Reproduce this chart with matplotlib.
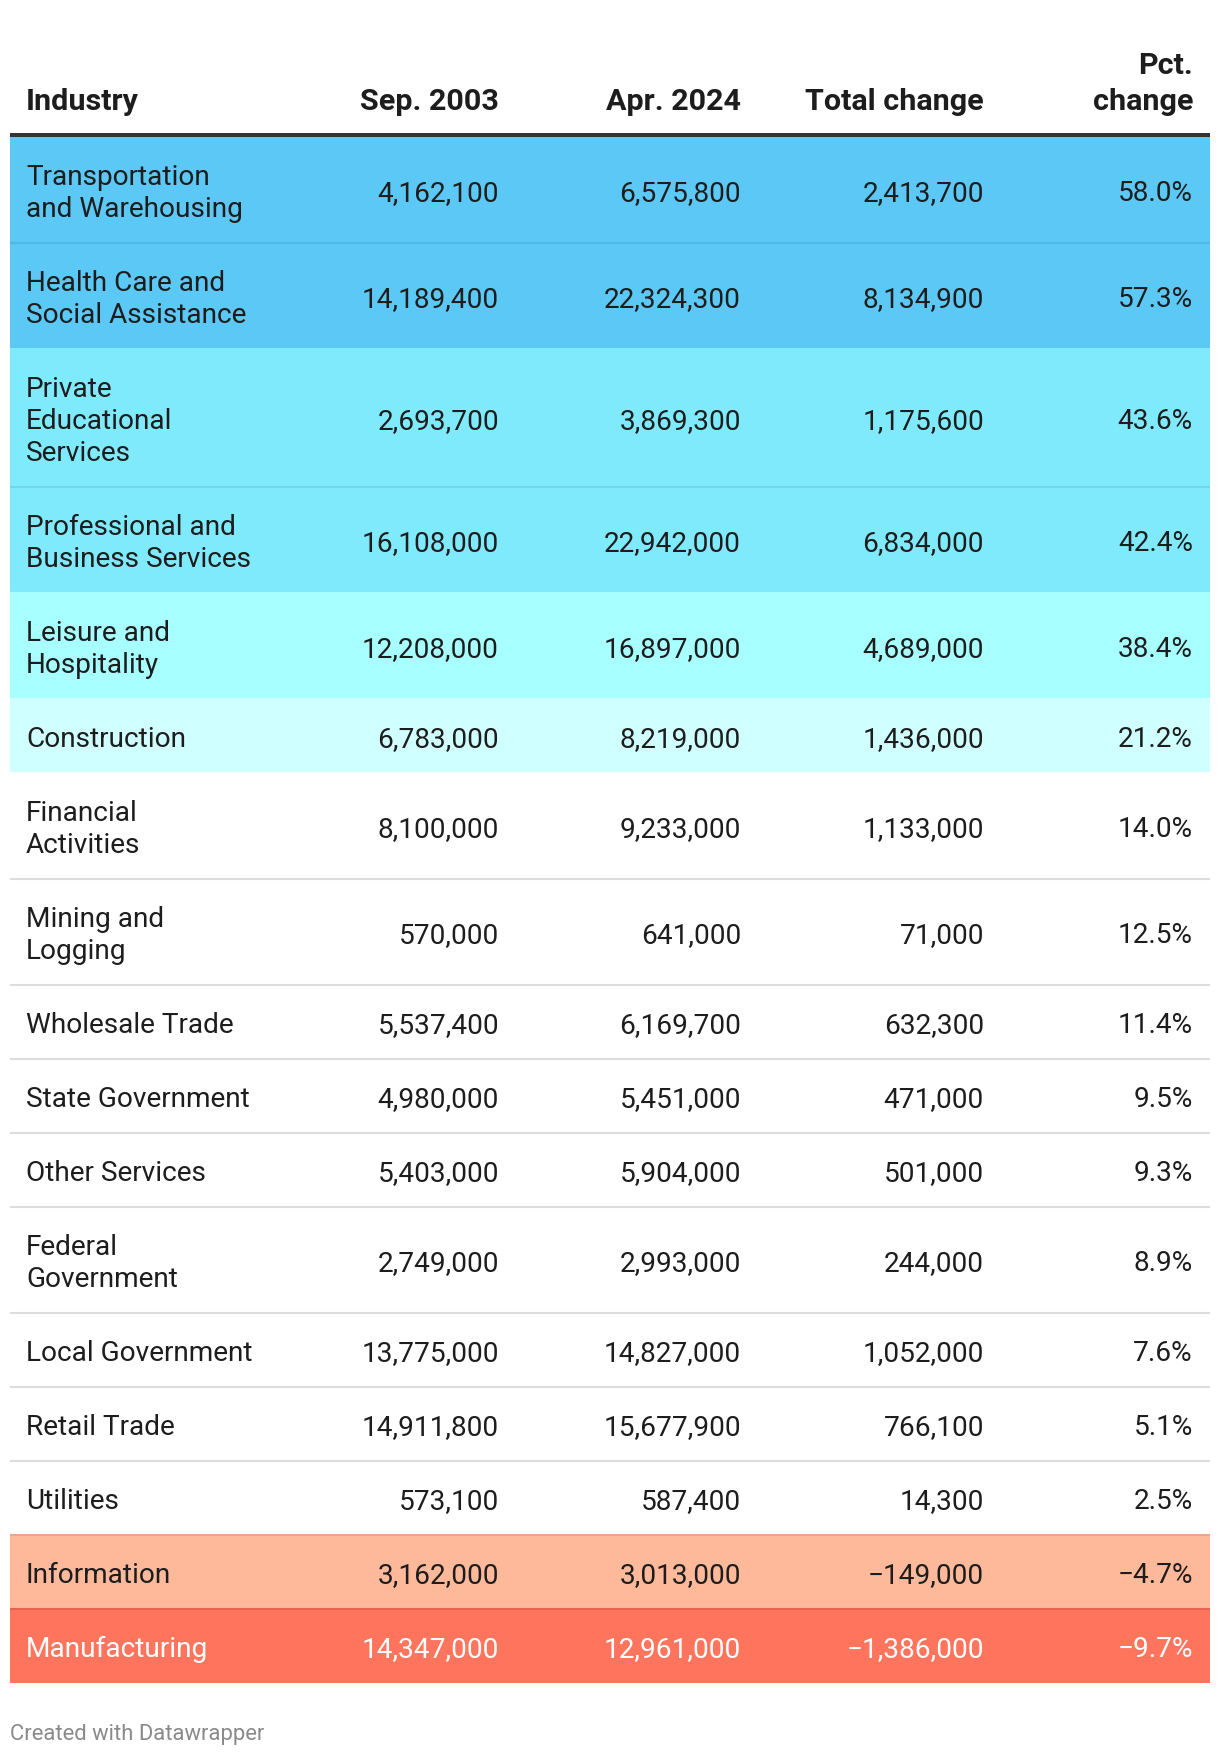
import matplotlib
matplotlib.use("Agg")
import matplotlib.pyplot as plt
from matplotlib.patches import Rectangle

# ---------------- data ----------------
industries = [
    "Transportation\nand Warehousing",
    "Health Care and\nSocial Assistance",
    "Private\nEducational\nServices",
    "Professional and\nBusiness Services",
    "Leisure and\nHospitality",
    "Construction",
    "Financial\nActivities",
    "Mining and\nLogging",
    "Wholesale Trade",
    "State Government",
    "Other Services",
    "Federal\nGovernment",
    "Local Government",
    "Retail Trade",
    "Utilities",
    "Information",
    "Manufacturing",
]
sep_2003 = [4162100, 14189400, 2693700, 16108000, 12208000, 6783000, 8100000,
            570000, 5537400, 4980000, 5403000, 2749000, 13775000, 14911800,
            573100, 3162000, 14347000]
apr_2024 = [6575800, 22324300, 3869300, 22942000, 16897000, 8219000, 9233000,
            641000, 6169700, 5451000, 5904000, 2993000, 14827000, 15677900,
            587400, 3013000, 12961000]
total_change = [2413700, 8134900, 1175600, 6834000, 4689000, 1436000, 1133000,
                71000, 632300, 471000, 501000, 244000, 1052000, 766100,
                14300, -149000, -1386000]
pct_change = [58.0, 57.3, 43.6, 42.4, 38.4, 21.2, 14.0, 12.5, 11.4, 9.5, 9.3,
              8.9, 7.6, 5.1, 2.5, -4.7, -9.7]
headers = ["Industry", "Sep. 2003", "Apr. 2024", "Total change", "Pct.\nchange"]
footer = "Created with Datawrapper"

# ---------------- style ----------------
FAM = ["Roboto", "DejaVu Sans"]
W, H = 1220, 1758
FS_PX = 28
FS = FS_PX * 72 / 100
HFS = 30.5 * 72 / 100
LINE = 32
PAD = 42

def fill_color(p):
    if p >= 50: return "#5bc8f5"
    if p >= 40: return "#80eafd"
    if p >= 30: return "#a8ffff"
    if p >= 20: return "#d0ffff"
    if p >= 0: return "#ffffff"
    if p >= -5: return "#feb99b"
    return "#ff745d"

def sep_color(p):
    if p >= 50: return "#50b8e4"
    if p >= 40: return "#70d8ea"
    if p >= 30: return "#95eaea"
    if p >= 20: return "#bfeeee"
    if p >= 0: return "#dddddd"
    if p >= -5: return "#f0a58a"
    return "#e86450"

def text_color(p):
    return "#ffffff" if p < -5 else "#1d1d1d"

def fmt_int(v):
    s = f"{abs(v):,}"
    return ("\u2212" + s) if v < 0 else s

def fmt_pct(v):
    s = f"{abs(v):.1f}%"
    return ("\u2212" + s) if v < 0 else s

fig = plt.figure(figsize=(W / 100, H / 100), dpi=100)
ax = fig.add_axes([0, 0, 1, 1])
ax.set_xlim(0, W)
ax.set_ylim(H, 0)
ax.axis("off")

left, right = 10, 1210
text_left = 26
col_right = [499, 741, 984, 1193]

def draw_lines(x, yc, s, ha, color, weight="normal", size=FS):
    lines = s.split("\n")
    n = len(lines)
    for i, ln in enumerate(lines):
        y = yc + (i - (n - 1) / 2) * LINE + 0.355 * FS_PX
        ax.text(x, y, ln, ha=ha, va="baseline", fontsize=size, color=color,
                fontweight=weight, family=FAM)

# header
hb = 110  # baseline of last header line
for j, h in enumerate(headers):
    lines = h.split("\n")
    for i, ln in enumerate(lines):
        y = hb - (len(lines) - 1 - i) * 36
        x = text_left if j == 0 else col_right[j - 1]
        ax.text(x, y, ln, ha="left" if j == 0 else "right", va="baseline",
                fontsize=HFS, fontweight="bold", color="#1d1d1d", family=FAM)

y = 138
ax.add_patch(Rectangle((left, 134), right - left, 4, color="#333333", lw=0, zorder=3))

for k, name in enumerate(industries):
    n = name.count("\n") + 1
    h = PAD + LINE * n
    p = pct_change[k]
    ax.add_patch(Rectangle((left, y), right - left, h, color=fill_color(p), lw=0, zorder=1))
    if k > 0:
        prev = pct_change[k - 1]
        c = sep_color(p) if fill_color(p) == fill_color(prev) else (sep_color(p) if p < 0 else sep_color(prev) if prev < 20 else fill_color(p))
        ax.plot([left, right], [y, y], color=c, lw=1.5, zorder=2, solid_capstyle="butt")
    yc = y + h / 2
    tc = text_color(p)
    draw_lines(text_left, yc, name, "left", tc)
    vals = [fmt_int(sep_2003[k]), fmt_int(apr_2024[k]), fmt_int(total_change[k]), fmt_pct(p)]
    for j, v in enumerate(vals):
        draw_lines(col_right[j], yc, v, "right", tc)
    y += h

ax.text(10, 1735, footer, ha="left", va="center", fontsize=15.8, color="#8a8a8a", family=FAM)

fig.savefig("out.png", dpi=100)
